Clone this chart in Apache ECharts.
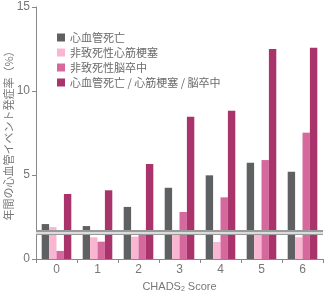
<!DOCTYPE html>
<html>
<head>
<meta charset="utf-8">
<script src="https://cdn.jsdelivr.net/npm/echarts@6/dist/echarts.min.js"></script>
<style>
html,body{margin:0;padding:0;background:#fff;}
#chart{width:326px;height:293px;}
</style>
</head>
<body>
<div id="chart"></div>
<script>
// CHADS2スコア
const categories = ['0', '1', '2', '3', '4', '5', '6']
// 系列名
const seriesNames = ['心血管死亡', '非致死性心筋梗塞', '非致死性脳卒中', '心血管死亡 / 心筋梗塞 / 脳卒中']
// 年間発症率（%）
const cvDeath = [2.08, 1.96, 3.1, 4.24, 4.98, 5.73, 5.2]
const nonFatalMI = [1.9, 1.29, 1.33, 1.45, 1.01, 1.5, 1.29]
const nonFatalStroke = [0.48, 1.03, 1.43, 2.8, 3.67, 5.89, 7.52]
const composite = [3.87, 4.09, 5.65, 8.47, 8.83, 12.5, 12.58]
// 基準線
const refLine = 1.57
const yTicks = [0, 5, 10, 15]

const colors = ['#5f6062', '#f9b6d0', '#d5699d', '#a8346b']
const jp = '"Noto Sans CJK JP", sans-serif'
const num = '"Liberation Sans", "Noto Sans", sans-serif'

const chart = echarts.init(document.getElementById('chart'))
const values = [cvDeath, nonFatalMI, nonFatalStroke, composite]

const series = values.map((v, i) => ({
  name: seriesNames[i],
  type: 'bar',
  data: v,
  barWidth: 7.4,
  barGap: '0%',
  itemStyle: { color: colors[i] },
  emphasis: { disabled: true }
}))

// 二重線
series[3].markLine = {
  silent: true,
  symbol: 'none',
  label: { show: false },
  animation: false,
  data: [
    { yAxis: refLine, lineStyle: { color: '#9a9a9a', width: 5, type: 'solid' } },
    { yAxis: refLine, lineStyle: { color: '#f2f2f2', width: 1.5, type: 'solid' } }
  ]
}

chart.setOption({
  animation: false,
  grid: { left: 36, right: 3, top: 7, bottom: 34, containLabel: false, outerBoundsMode: 'none' },
  legend: {
    orient: 'vertical',
    left: 52,
    top: 27,
    itemWidth: 8,
    itemHeight: 8,
    itemGap: 4,
    icon: 'rect',
    textStyle: { fontSize: 11, color: '#6a6a6a', fontFamily: jp },
    data: seriesNames
  },
  xAxis: {
    type: 'category',
    data: categories,
    name: '{a|CHADS}{b|2}{a| Score}',
    nameLocation: 'middle',
    nameGap: 21,
    nameMoveOverlap: false,
    nameTextStyle: {
      rich: {
        a: { fontSize: 11, color: '#777', fontFamily: num },
        b: { fontSize: 7, color: '#777', fontFamily: num, padding: [6, 0, 0, 0] }
      }
    },
    axisLine: { lineStyle: { color: '#888', width: 1 } },
    axisTick: { show: true, length: 4, lineStyle: { color: '#888' } },
    axisLabel: { fontSize: 12, color: '#777', fontFamily: num, margin: 5 }
  },
  yAxis: {
    type: 'value',
    min: yTicks[0],
    max: yTicks[yTicks.length - 1],
    interval: 5,
    name: '年間の心血管イベント発症率（%）',
    nameLocation: 'middle',
    nameGap: 22,
    nameMoveOverlap: false,
    nameTextStyle: { fontSize: 11, color: '#777', fontFamily: jp },
    axisLine: { show: true, lineStyle: { color: '#888', width: 1 } },
    axisTick: { show: true, length: 4, lineStyle: { color: '#888' } },
    axisLabel: { fontSize: 12, color: '#777', fontFamily: num, margin: 6 },
    splitLine: { show: false }
  },
  series: series
})
</script>
</body>
</html>
